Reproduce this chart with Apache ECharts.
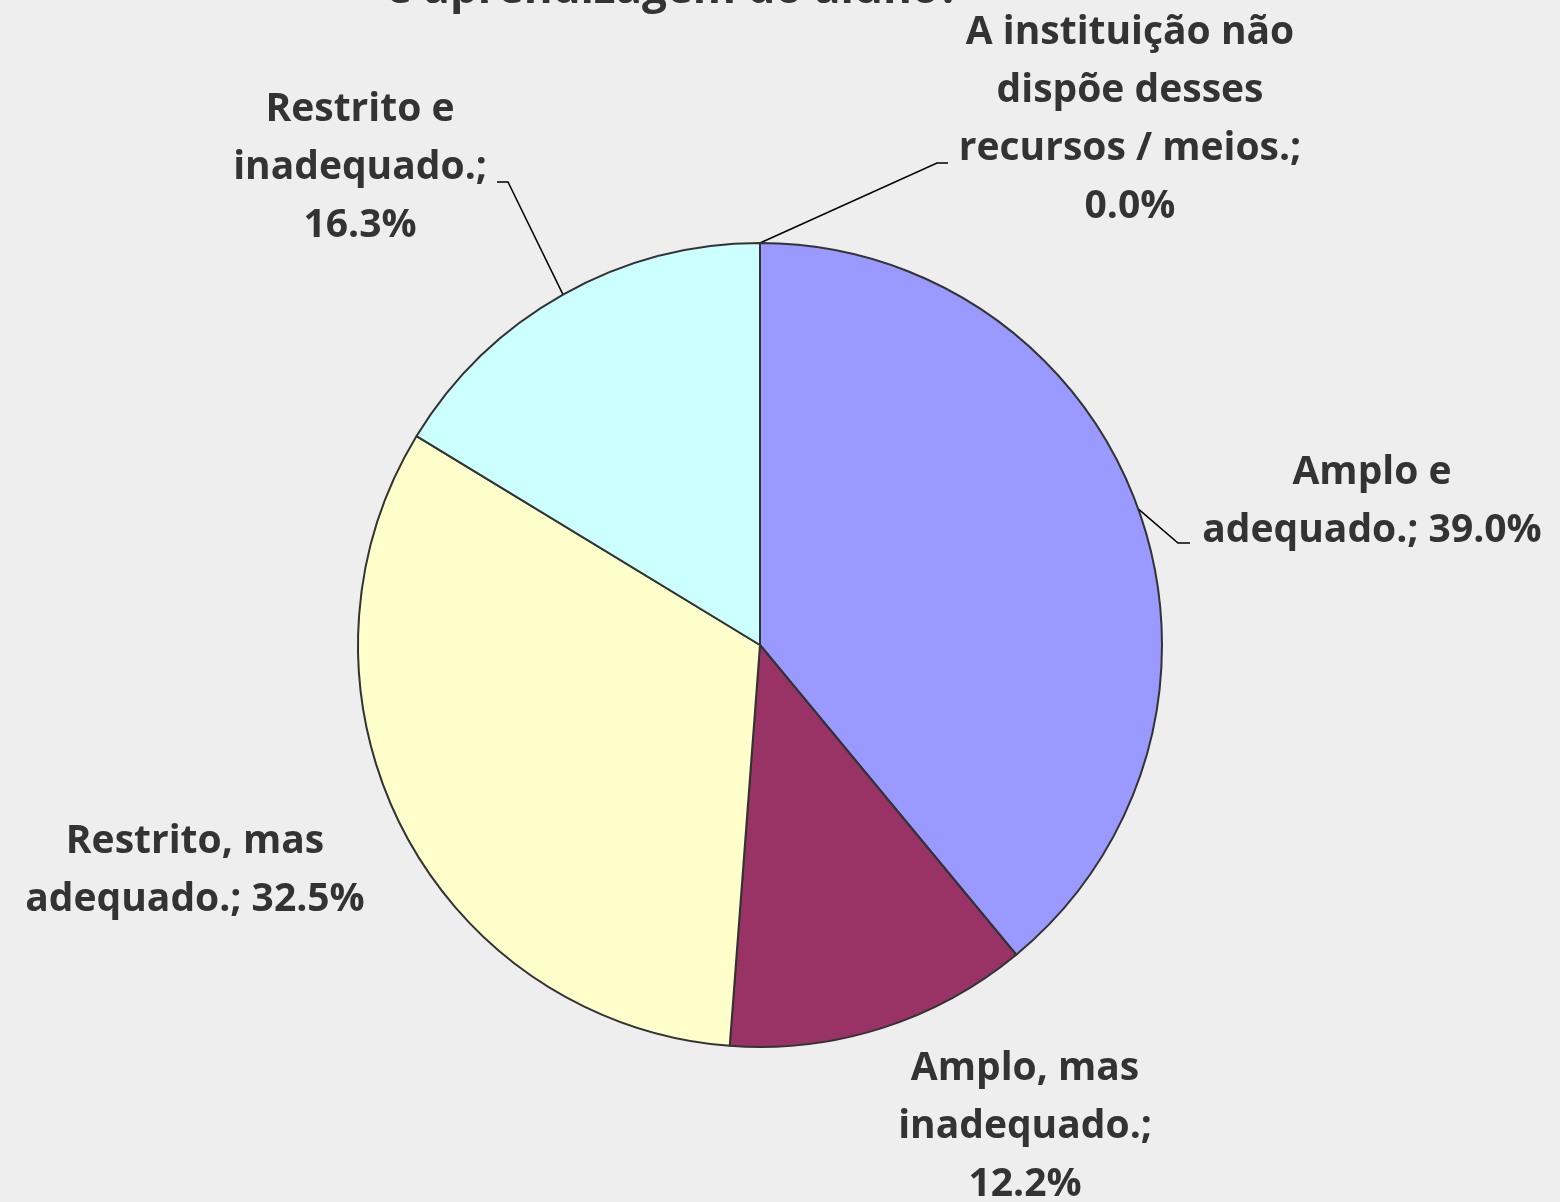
<!DOCTYPE html>
<html>
<head>
<meta charset="utf-8">
<script src="https://cdn.jsdelivr.net/npm/echarts@6/dist/echarts.min.js"></script>
<style>
  html, body { margin: 0; padding: 0; background: #eeeeee; }
  #chart { width: 1560px; height: 1202px; }
</style>
</head>
<body>
<div id="chart"></div>
<script>
  // dados do gráfico
  const categorias = [
    'Amplo e\nadequado.; 39.0%',
    'Amplo, mas\ninadequado.;\n12.2%',
    'Restrito, mas\nadequado.; 32.5%',
    'Restrito e\ninadequado.;\n16.3%',
    'A instituição não\ndispõe desses\nrecursos / meios.;\n0.0%'
  ];
  const valores = [39.0, 12.2, 32.5, 16.3, 0.0];
  const cores = ['#9999ff', '#993366', '#ffffcc', '#ccffff', '#ffffc0'];

  // posição (centro) de cada rótulo e pontas das linhas de chamada
  const posRotulos = [[1372, 502], [1025, 1127], [195, 871], [360, 168], [1130, 120]];
  const pontasLinha = [
    [[1178, 543], [1190, 543]],
    null,
    null,
    [[508, 182], [497, 182]],
    [[937, 163], [948, 163]]
  ];

  const fonte = '"Open Sans", "Liberation Sans", sans-serif';
  const centro = [760, 645];
  const raio = 402;

  // ponto na borda da fatia (meio do ângulo), caso o echarts não forneça
  function bordaFatia(idx) {
    let total = valores.reduce((a, b) => a + b, 0);
    let acum = 0;
    for (let i = 0; i < idx; i++) acum += valores[i];
    let meio = (acum + valores[idx] / 2) / total;
    let ang = Math.PI / 2 - meio * Math.PI * 2;
    return [centro[0] + raio * Math.cos(ang), centro[1] - raio * Math.sin(ang)];
  }

  let myChart = echarts.init(document.getElementById('chart'));
  myChart.setOption({
    backgroundColor: '#eeeeee',
    animation: false,
    title: {
      text: 'e aprendizagem do aluno?',
      left: 668,
      textAlign: 'center',
      top: -37,
      textStyle: { fontFamily: fonte, fontWeight: 'bold', fontSize: 44, color: '#333333' }
    },
    series: [{
      type: 'pie',
      center: centro,
      radius: raio,
      startAngle: 90,
      clockwise: true,
      stillShowZeroSum: true,
      minAngle: 0,
      avoidLabelOverlap: false,
      itemStyle: { borderColor: '#333333', borderWidth: 2 },
      label: {
        show: true,
        position: 'outside',
        formatter: '{b}',
        fontFamily: fonte,
        fontWeight: 'bold',
        fontSize: 39,
        lineHeight: 58,
        color: '#333333',
        align: 'center'
      },
      labelLine: { show: true, length: 10, length2: 10, lineStyle: { color: '#000000', width: 1.5 } },
      labelLayout: function (params) {
        const i = params.dataIndex;
        const p = posRotulos[i];
        let res = { x: p[0], y: p[1], align: 'center', verticalAlign: 'middle' };
        if (pontasLinha[i]) {
          let ini = params.labelLinePoints && params.labelLinePoints[0]
            ? params.labelLinePoints[0] : bordaFatia(i);
          res.labelLinePoints = [ini, pontasLinha[i][0], pontasLinha[i][1]];
        }
        return res;
      },
      data: valores.map(function (v, i) {
        return {
          name: categorias[i],
          value: v,
          itemStyle: { color: cores[i] },
          labelLine: { show: pontasLinha[i] != null }
        };
      })
    }]
  });
</script>
</body>
</html>
